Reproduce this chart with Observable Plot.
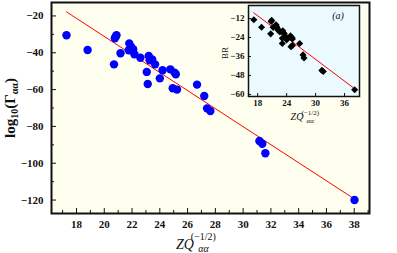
<!DOCTYPE html>
<html><head><meta charset="utf-8">
<script src="https://cdn.jsdelivr.net/npm/d3@7"></script>
<script src="https://cdn.jsdelivr.net/npm/@observablehq/plot@0.6"></script>
<style>
body{margin:0;background:#fff}
#c{position:relative;width:397px;height:253px}
svg{overflow:visible}
</style>
</head><body><div id="c"></div>
<script>
// main panel: log10(Gamma) vs ZQ^(-1/2)
const zq = [17.28, 18.8, 20.7, 20.76, 20.88, 20.82, 21.17, 21.76, 21.8, 21.93, 22.08, 22.17, 22.6, 23.06, 23.13, 23.2, 23.27, 23.45, 23.66, 24.0, 24.2, 24.76, 24.93, 25.07, 25.15, 25.24, 26.68, 27.2, 27.4, 27.64, 31.17, 31.38, 31.6, 38.02];
const logGamma = [-30.5, -38.5, -46.3, -32.1, -30.5, -31.3, -40.3, -38.6, -34.9, -36.7, -38.1, -40.8, -42.7, -50.4, -57.0, -41.7, -44.1, -43.6, -46.3, -53.9, -49.5, -49.0, -59.3, -50.8, -51.7, -60.0, -57.3, -63.5, -70.2, -71.6, -87.9, -89.4, -94.6, -120.0];
const fitX = [17.28, 37.95];
const fitY = [-17.8, -119.1];
const xTicks = [18, 20, 22, 24, 26, 28, 30, 32, 34, 36, 38];
const xMinor = [17, 19, 21, 23, 25, 27, 29, 31, 33, 35, 37, 39];
const yTicks = [-120, -100, -80, -60, -40, -20];
const yMinor = [-110, -90, -70, -50, -30];

// inset panel: BR vs ZQ^(-1/2)
const brZq = [17.2, 18.8, 20.7, 20.8, 20.9, 21.2, 21.8, 21.9, 22.1, 22.2, 22.6, 23.1, 23.1, 23.2, 23.3, 23.5, 23.7, 24.0, 24.2, 24.8, 24.9, 25.1, 25.2, 25.2, 26.7, 27.4, 27.6, 31.3, 31.6, 38.1];
const br = [-12.8, -17.5, -21.7, -13.9, -13.2, -17.6, -16.0, -17.0, -18.3, -19.3, -20.5, -24.5, -27.8, -19.8, -21.0, -21.5, -23.0, -25.5, -24.5, -23.0, -29.8, -24.0, -25.0, -29.0, -27.8, -35.0, -37.0, -44.8, -45.5, -57.0];
const brFitX = [17.17, 38.1];
const brFitY = [-8.4, -56.4];
const insetXTicks = [18, 24, 30, 36];
const insetYTicks = [-60, -48, -36, -24, -12];

const serif = "'Liberation Serif', 'DejaVu Serif', serif";
const container = document.getElementById("c");

const mainData = zq.map((x, i) => ({x, y: logGamma[i]}));
const fitData = fitX.map((x, i) => ({x, y: fitY[i]}));

const main = Plot.plot({
  width: 397, height: 253,
  marginLeft: 51, marginRight: 28, marginTop: 2, marginBottom: 40,
  style: {fontFamily: serif, fontSize: "11px", fontWeight: "bold", background: "transparent", color: "#111"},
  x: {domain: [16.2, 39.1]},
  y: {domain: [-127.3, -12.7]},
  marks: [
    Plot.frame({fill: "#fffff0", stroke: "none"}),
    Plot.axisX(xMinor, {tickSize: -3, tickFormat: () => "", label: null}),
    Plot.axisX(xTicks, {tickSize: -5, tickPadding: 12, label: null}),
    Plot.axisY(yMinor, {tickSize: -3, tickFormat: () => "", label: null}),
    Plot.axisY(yTicks, {tickSize: -5, tickPadding: 13, label: null}),
    Plot.line(fitData, {x: "x", y: "y", stroke: "#ff0000", strokeWidth: 1}),
    Plot.dot(mainData, {x: "x", y: "y", fill: "#0000ff", r: 4.2}),
    Plot.frame({stroke: "#111", strokeWidth: 2})
  ]
});
container.appendChild(main);

const insetData = brZq.map((x, i) => ({x, y: br[i]}));
const insetFit = brFitX.map((x, i) => ({x, y: brFitY[i]}));
const inset = Plot.plot({
  width: 150, height: 125,
  marginLeft: 30, marginRight: 9, marginTop: 5, marginBottom: 29,
  style: {fontFamily: serif, fontSize: "9px", fontWeight: "bold", background: "transparent", color: "#111"},
  x: {domain: [16.1, 39.1]},
  y: {domain: [-61.3, -3.8]},
  marks: [
    Plot.frame({fill: "#ebfaff", stroke: "none"}),
    Plot.axisX(insetXTicks, {tickSize: -3, tickPadding: 6, label: null}),
    Plot.axisY(insetYTicks, {tickSize: -3, tickPadding: 7, label: null}),
    Plot.line(insetFit, {x: "x", y: "y", stroke: "#ff0000", strokeWidth: 1}),
    Plot.dot(insetData, {x: "x", y: "y", symbol: "diamond2", fill: "#000", r: 3.2}),
    Plot.frame({stroke: "#111", strokeWidth: 1.5})
  ]
});
inset.style.position = "absolute";
inset.style.left = "218px";
inset.style.top = "0px";
container.appendChild(inset);

// axis titles with sub/superscripts
function zqLabel(svg, x0, y0, fs, ss, supDy, subDy) {
  const s = d3.select(svg);
  const t = s.append("text").attr("x", x0).attr("y", y0)
    .attr("font-family", serif).attr("font-style", "italic").attr("font-weight", "normal").attr("font-size", fs)
    .attr("fill", "#111").text("ZQ");
  const w = t.node().getComputedTextLength();
  s.append("text").attr("x", x0 + w + 0.5).attr("y", y0 - supDy)
    .attr("font-family", serif).attr("font-weight", "normal").attr("font-size", ss).attr("fill", "#111").text("(−1/2)");
  s.append("text").attr("x", x0 + w + 0.5).attr("y", y0 + subDy)
    .attr("font-family", serif).attr("font-style", "italic").attr("font-weight", "normal").attr("font-size", ss).attr("fill", "#111").text("αα");
}
zqLabel(main, 185, 249, 14, 10, 9, 3);
zqLabel(inset, 297 - 218, 120, 10, 7, 5, 3);

// main y label
{
  const t = d3.select(main).append("text")
    .attr("transform", "translate(15,108) rotate(-90)")
    .attr("text-anchor", "middle")
    .attr("font-family", serif).attr("font-weight", "bold").attr("font-size", 15).attr("fill", "#111");
  t.append("tspan").text("log");
  t.append("tspan").attr("dy", 3).attr("font-size", 10).text("10");
  t.append("tspan").attr("dy", -3).text("(Γ");
  t.append("tspan").attr("dy", 3).attr("font-size", 10).text("αα");
  t.append("tspan").attr("dy", -3).text(")");
}
// inset y label
d3.select(inset).append("text")
  .attr("transform", "translate(10,53) rotate(-90)")
  .attr("text-anchor", "middle")
  .attr("font-family", serif).attr("font-weight", "normal").attr("font-size", 9).attr("fill", "#111").text("BR");
// panel tag
d3.select(inset).append("text")
  .attr("x", 120).attr("y", 19)
  .attr("font-family", serif).attr("font-style", "italic").attr("font-weight", "normal").attr("font-size", 10).attr("fill", "#111").text("(a)");
</script>
</body></html>
